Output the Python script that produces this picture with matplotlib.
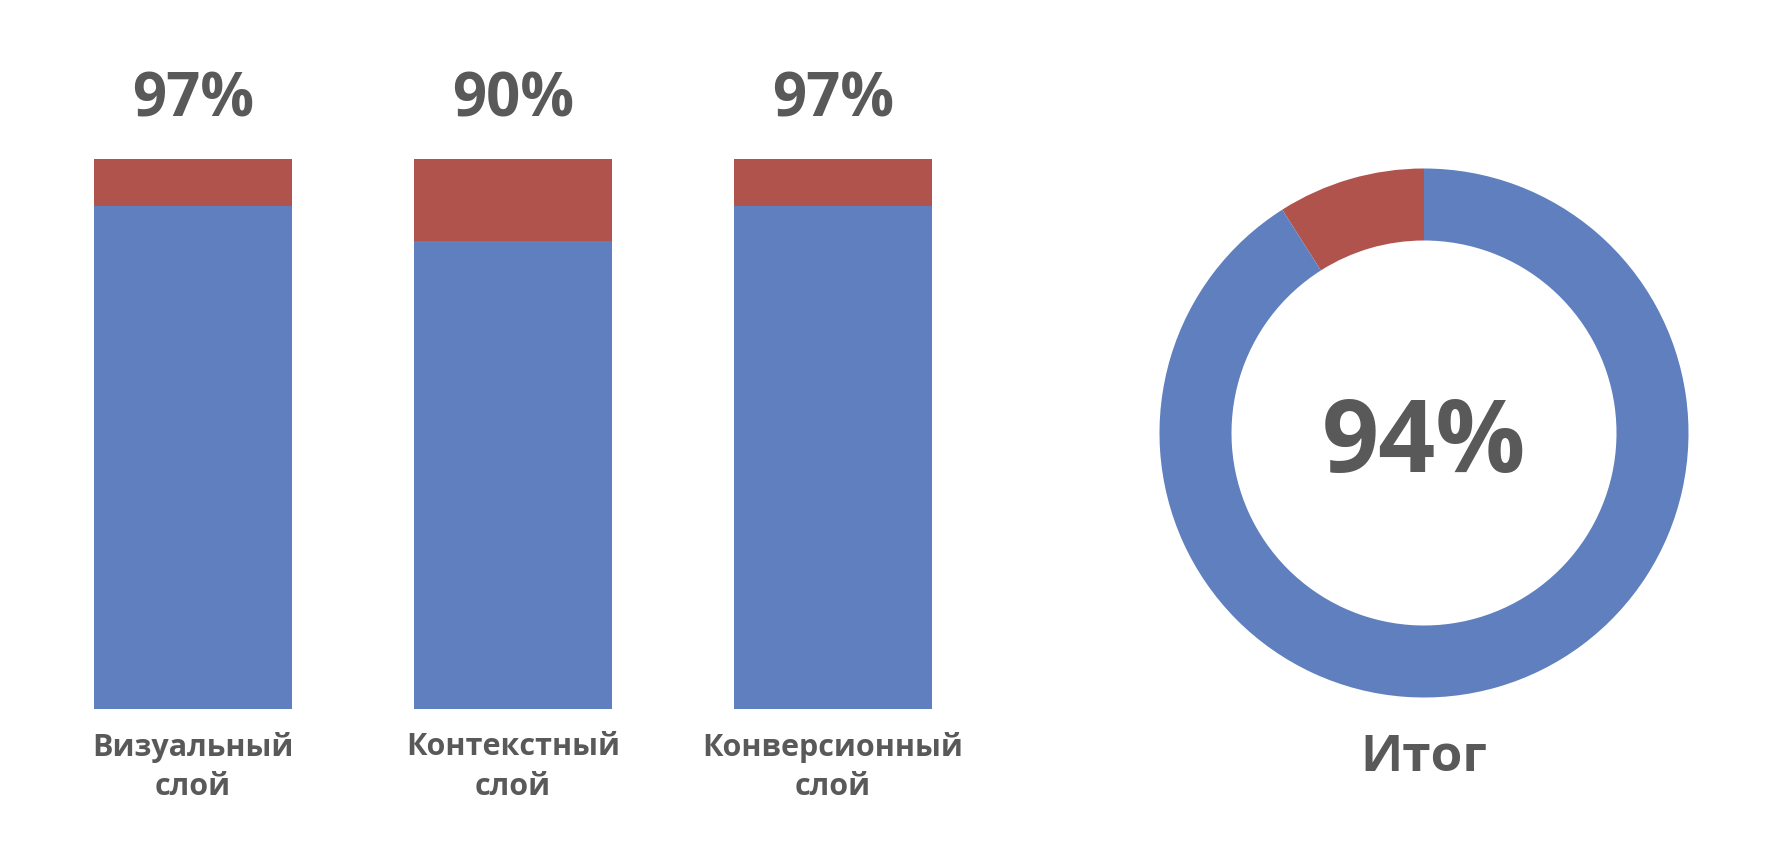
import matplotlib
matplotlib.use('Agg')
import matplotlib.pyplot as plt

plt.rcParams['font.family'] = ['Open Sans', 'DejaVu Sans']

layers = ['Визуальный\nслой', 'Контекстный\nслой', 'Конверсионный\nслой']
layer_labels = ['97%', '90%', '97%']
blue_part = [91.4, 85.1, 91.4]
red_part = [100 - v for v in blue_part]

total_label = '94%'
total_name = 'Итог'
total_parts = [9.0, 91.0]  # red, blue

blue = '#5f7fbe'
red = '#b0534d'
grey = '#595959'

W, H = 1784, 857
fig = plt.figure(figsize=(W / 100, H / 100), dpi=100)

# bars
ax = fig.add_axes([33 / W, 148.3 / H, 960 / W, 549.7 / H])
x = list(range(len(layers)))
ax.bar(x, blue_part, width=0.62, color=blue)
ax.bar(x, red_part, width=0.62, bottom=blue_part, color=red)
ax.set_xlim(-0.5, 2.5)
ax.set_ylim(0, 100)
ax.axis('off')

for i in x:
    ax.text(i, 110.5, layer_labels[i], ha='center', va='center',
            fontsize=43, fontweight='bold', color=grey, clip_on=False)
    ax.text(i, -10.6, layers[i], ha='center', va='center',
            fontsize=22, fontweight='bold', color=grey, linespacing=1.4,
            clip_on=False)

# donut
r = 264.5
cx, cy = 1424, 433
ax2 = fig.add_axes([(cx - r) / W, (H - cy - r) / H, 2 * r / W, 2 * r / H])
ax2.pie(total_parts, colors=[red, blue], startangle=90, counterclock=True,
        radius=1, wedgeprops=dict(width=72 / r, linewidth=0))
ax2.set_xlim(-1, 1)
ax2.set_ylim(-1, 1)
ax2.axis('off')
ax2.text(0, -0.047, total_label, ha='center', va='center',
         fontsize=72, fontweight='bold', color=grey)
ax2.text(0, -1.23, total_name, ha='center', va='center',
         fontsize=37, fontweight='bold', color=grey, clip_on=False)

fig.savefig('out.png', dpi=100, facecolor='white')
